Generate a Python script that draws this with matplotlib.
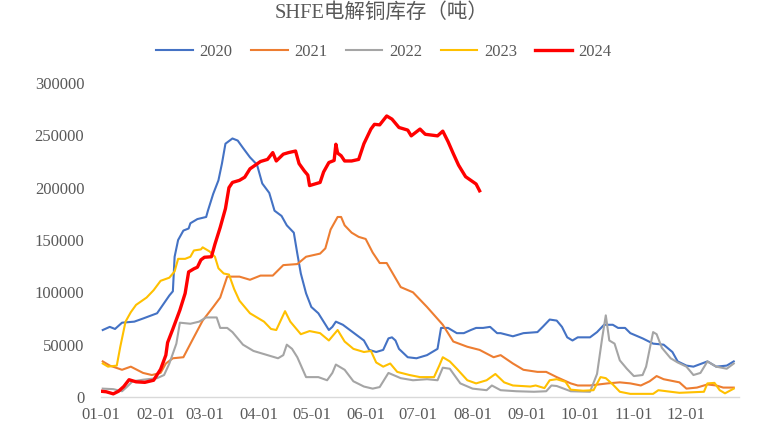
import matplotlib
matplotlib.use("Agg")
import matplotlib.pyplot as plt
import numpy as np

plt.rcParams["font.family"] = ["Liberation Serif", "Noto Sans CJK SC", "DejaVu Sans"]

# x: days since 01-01, y: stock in thousand tonnes
d2020 = [1, 5, 8, 12, 19, 24, 32, 39, 41, 42, 44, 47, 50, 51, 55, 60, 61, 64, 67, 69, 71, 75, 78, 81, 85, 89,
         92, 96, 99, 103, 106, 110, 112, 114, 117, 120, 124, 127, 130, 132, 134, 138, 142, 146, 150, 153, 157,
         161, 164, 166, 168, 170, 175, 180, 186, 192, 194, 198, 203, 207, 211, 214, 218, 222, 226, 228, 235,
         241, 249, 252, 256, 260, 263, 266, 269, 272, 279, 283, 287, 292, 295, 299, 302, 309, 315, 321, 326,
         329, 334, 338, 346, 351, 357, 361]
v2020 = [64, 67, 65, 71, 72, 75, 80, 97, 101, 134, 150, 159, 161, 166, 170, 172, 178, 194, 207, 223, 242, 247,
         245, 238, 229, 222, 204, 195, 178, 173, 164, 157, 137, 118, 99, 86, 80, 72, 64, 67, 72, 69, 64, 59, 54,
         45, 43, 45, 56, 57, 54, 46, 38, 37, 40, 46, 66, 66, 61, 61, 64, 66, 66, 67, 61, 61, 58, 61, 62, 67, 74,
         73, 67, 57, 54, 57, 57, 62, 69, 69, 66, 66, 61, 56, 51, 50, 43, 34, 30, 29, 34, 29, 30, 34]

d2021 = [1, 5, 12, 17, 24, 29, 34, 37, 41, 47, 52, 58, 64, 68, 72, 79, 85, 91, 98, 104, 112, 117, 125, 128, 131,
         135, 137, 139, 143, 147, 151, 155, 159, 163, 171, 178, 186, 195, 201, 209, 216, 224, 228, 235, 241,
         249, 254, 260, 268, 272, 279, 289, 296, 302, 308, 313, 317, 321, 330, 334, 340, 346, 351, 355, 361]
v2021 = [34, 30, 26, 29, 23, 21, 23, 32, 37, 38, 54, 73, 86, 95, 115, 115, 112, 116, 116, 126, 127, 134, 137,
         142, 160, 172, 172, 164, 157, 153, 151, 138, 128, 128, 105, 100, 86, 69, 53, 48, 45, 38, 40, 32, 26,
         24, 24, 19, 13, 11, 11, 13, 14, 13, 11, 15, 20, 17, 14, 8, 9, 12, 11, 9, 9]

d2022 = [1, 7, 12, 15, 18, 24, 32, 36, 39, 43, 45, 51, 56, 60, 66, 68, 72, 75, 81, 87, 95, 101, 104, 106, 109,
         112, 117, 124, 129, 132, 134, 139, 144, 150, 155, 159, 164, 171, 178, 186, 192, 195, 199, 205, 212,
         220, 223, 228, 237, 247, 254, 257, 260, 268, 279, 283, 286, 288, 290, 293, 296, 300, 304, 309, 311,
         315, 317, 320, 325, 329, 334, 338, 342, 346, 351, 357, 361]
v2022 = [8, 7.5, 5.5, 10, 15, 16.5, 18, 21, 32, 51, 71, 70, 72, 76, 76, 66, 66, 62, 50, 44, 40, 37, 40, 50, 46,
         38, 19, 19, 16, 23, 31, 26, 15, 10, 8, 9.5, 23, 18, 16, 17, 16, 28, 27, 13, 8, 6.5, 11, 6.5, 5.5, 5,
         5.5, 11, 10.5, 5.5, 5, 22, 57, 78, 54, 51, 35, 27, 20, 21, 29, 62, 60, 47, 37, 33, 29, 21, 23, 34, 29,
         27, 32]

d2023 = [1, 4, 9, 11, 14, 17, 20, 26, 30, 34, 39, 42, 44, 48, 51, 53, 57, 58, 62, 65, 67, 70, 73, 76, 79, 85,
         93, 97, 100, 105, 108, 114, 119, 125, 130, 135, 139, 144, 150, 154, 157, 161, 165, 169, 176, 182, 190,
         193, 195, 199, 203, 209, 214, 220, 225, 230, 235, 245, 248, 253, 256, 260, 265, 268, 275, 281, 285,
         288, 292, 296, 302, 315, 318, 325, 330, 344, 346, 350, 353, 356, 361]
v2023 = [32, 29, 30, 48, 72, 81, 88, 95, 102, 111, 114, 120, 132, 132, 134, 140, 141, 143, 139, 134, 123, 118,
         117, 103, 92, 80, 72, 65, 64, 82, 72, 60, 63, 61, 54, 64, 53, 46, 43, 44, 33, 29, 32, 24, 21, 19, 19,
         30, 38, 34, 27, 16, 13, 16, 22, 14, 11, 10, 11, 8.5, 16, 17, 14.5, 7, 6, 6.5, 19, 18, 12, 5, 3, 3, 6.5,
         5, 4, 5, 13, 13.5, 6.5, 3.5, 8]

d2024 = [0, 3, 7, 10, 13, 16, 20, 25, 30, 34, 37, 38, 41, 45, 48, 50, 53, 55, 57, 59, 63, 65, 68, 71, 73, 75,
         79, 82, 85, 91, 95, 98, 100, 104, 107, 111, 113, 116, 118, 119, 125, 127, 130, 133, 134, 135, 137, 139,
         143, 147, 150, 154, 156, 159, 163, 166, 170, 175, 177, 182, 185, 192, 195, 198, 201, 204, 208, 211,
         214, 216]
v2024 = [5.5, 5, 3, 5.5, 10, 16.5, 14.5, 14, 16, 26.5, 40, 52, 65, 83, 99, 119.5, 122.5, 124, 131, 133.5, 134,
         146, 162, 180, 200, 205, 207, 210, 218, 225, 227, 233.5, 225.5, 232, 233.5, 235, 223, 216, 212, 202,
         205, 215, 224, 226, 241.5, 233, 230.5, 225.5, 225.5, 227, 242, 256, 260.5, 260, 268.5, 265.5, 257.5,
         255, 249.5, 256, 251, 249.5, 254, 244, 232.5, 221.5, 210.5, 207, 203.5, 197]

years = ["2020", "2021", "2022", "2023", "2024"]
colors = ["#4472C4", "#ED7D31", "#A5A5A5", "#FFC000", "#FF0000"]
series = [(d2020, v2020), (d2021, v2021), (d2022, v2022), (d2023, v2023), (d2024, v2024)]

tick_days = [0, 31, 59, 90, 120, 151, 181, 212, 243, 273, 304, 334]
tick_labels = ["01-01", "02-01", "03-01", "04-01", "05-01", "06-01",
               "07-01", "08-01", "09-01", "10-01", "11-01", "12-01"]

txt = "#595959"

fig = plt.figure(figsize=(7.81, 4.33), dpi=100)
ax = fig.add_axes([101 / 781, 36 / 433, 638 / 781, 314 / 433])

for yr, c, (d, v) in zip(years, colors, series):
    lw = 2.4 if yr == "2024" else 1.5
    ax.plot(d, np.array(v) * 1000, color=c, lw=lw, label=yr, solid_joinstyle="round")

ax.set_xlim(0, 364)
ax.set_ylim(0, 300000)
ax.set_xticks(tick_days)
ax.set_xticklabels(tick_labels)
ax.set_yticks(np.arange(0, 300001, 50000))
ax.tick_params(axis="both", length=0, labelsize=12, colors=txt)
ax.tick_params(axis="y", pad=12)
ax.tick_params(axis="x", pad=7)

for s in ["top", "right", "left"]:
    ax.spines[s].set_visible(False)
ax.spines["bottom"].set_color("#D9D9D9")
ax.spines["bottom"].set_linewidth(1.0)

fig.text(382 / 781, 1 - 13 / 433, "SHFE电解铜库存（吨）", ha="center", va="center",
         fontsize=14.8, color=txt)

fig.legend(loc="center", bbox_to_anchor=(384 / 781, 1 - 52 / 433), ncol=5, frameon=False,
           fontsize=12, labelcolor=txt, handlelength=2.2, handletextpad=0.4, columnspacing=1.1)

fig.savefig("out.png", dpi=100)
